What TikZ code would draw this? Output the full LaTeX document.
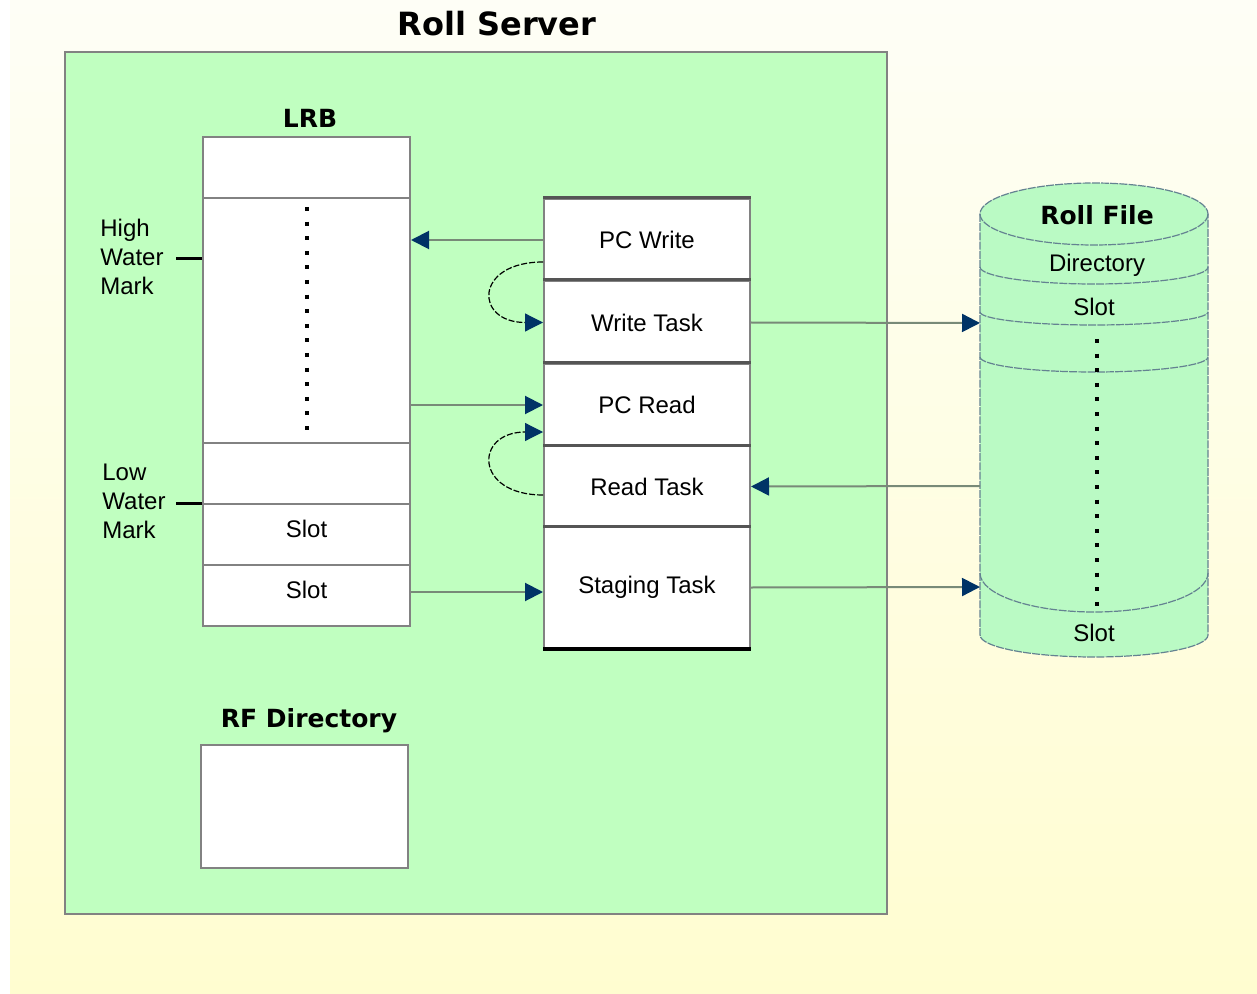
\documentclass[tikz,border=0pt]{standalone}
\usepackage{fontspec}
\setmainfont{Liberation Sans}
\newfontfamily\headfont{DejaVu Sans}
\usetikzlibrary{positioning,arrows.meta}
\definecolor{serverbg}{RGB}{192,255,192}
\definecolor{filebg}{RGB}{186,250,196}
\definecolor{boxline}{RGB}{130,130,130}
\definecolor{darkline}{RGB}{85,85,85}
\definecolor{wireline}{RGB}{120,138,120}
\definecolor{fileline}{RGB}{100,130,145}
\definecolor{tipblue}{RGB}{0,51,102}
\definecolor{pagetop}{RGB}{254,254,246}
\definecolor{pagebot}{RGB}{255,253,208}

\begin{document}
\begin{tikzpicture}[x=0.5pt, y=-0.5pt, font=\fontsize{12}{14.5}\selectfont,
		head/.style={font=\headfont\bfseries\fontsize{12.5}{15}\selectfont},
		wire/.style={wireline, line width=1pt, -{Triangle[length=9pt,width=9pt,color=tipblue]}},
		loopback/.style={black, line width=0.6pt, dash pattern=on 3pt off 1pt, -{Triangle[length=9pt,width=9pt,color=tipblue]}},
		dots/.style={line width=2pt, dash pattern=on 2pt off 5.3pt}]
	\useasboundingbox (0,0) rectangle (1257,994);
	\fill[white] (0,0) rectangle (1257,994);
	\shade[top color=pagetop, bottom color=pagebot] (10,0) rectangle (1257,994);

	% server frame
	\draw[boxline, fill=serverbg, line width=1pt] (65,52) rectangle (887,914);
	\node[font=\headfont\bfseries\fontsize{16}{19}\selectfont] (title) at (497,24) {Roll Server};

	% local roll buffer
	\node[head] (lrblabel) at (310,118) {LRB};
	\begin{scope}[every node/.style={draw=boxline, fill=white, line width=1pt, minimum width=103.5pt, inner sep=0pt}]
		\node[minimum height=30.5pt] (lrb0) at (306.5,167.5) {};
		\node[minimum height=122.5pt] (lrb1) at (306.5,320.5) {};
		\node[minimum height=30.5pt] (lrb2) at (306.5,473.5) {};
		\node[minimum height=30.5pt, text depth=6pt] (lrb3) at (306.5,534.5) {Slot};
		\node[minimum height=30.5pt, text depth=6pt] (lrb4) at (306.5,595.5) {Slot};
	\end{scope}
	\draw[dots] ([yshift=-5pt]lrb1.north) -- ([yshift=3pt]lrb1.south);

	\node[align=left, anchor=west, inner sep=0pt] (high) at (100,257) {High\\Water\\Mark};
	\node[align=left, anchor=west, inner sep=0pt] (low) at (102,501) {Low\\Water\\Mark};
	\draw[line width=1.5pt] ([yshift=-1pt]lrb1.west |- high.east) -- ++(-26,0);
	\draw[line width=1.5pt] (lrb3.north west) -- ++(-26,0);

	% tasks
	\begin{scope}[every node/.style={draw=boxline, fill=white, line width=1pt, minimum width=103pt, inner sep=0pt}]
		\node[minimum height=41pt] (pcw) at (647,240) {PC Write};
		\node[minimum height=41.5pt] (wtask) at (647,322.5) {Write Task};
		\node[minimum height=41pt] (pcr) at (647,405) {PC Read};
		\node[minimum height=40.5pt] (rtask) at (647,486.5) {Read Task};
		\node[minimum height=60.5pt] (stask) at (647,587.5) {Staging Task};
	\end{scope}
	\begin{scope}[every path/.style={darkline, line width=1.5pt}]
		\draw (pcw.north west) -- (pcw.north east);
		\draw (wtask.north west) -- (wtask.north east);
		\draw (pcr.north west) -- (pcr.north east);
		\draw (rtask.north west) -- (rtask.north east);
		\draw (stask.north west) -- (stask.north east);
	\end{scope}
	\draw[black, line width=2pt] (stask.south west) -- (stask.south east);

	% roll file
	\fill[filebg] (980,214) -- (980,635) arc[start angle=180, end angle=0, x radius=114, y radius=22] -- (1208,214) -- cycle;
	\begin{scope}[fileline, line width=0.6pt, dash pattern=on 4pt off 0.6pt]
		\draw[fill=filebg] (1094,214) ellipse[x radius=114, y radius=31];
		\draw (980,214) -- (980,635) arc[start angle=180, end angle=0, x radius=114, y radius=22] -- (1208,214);
		\draw (980,267) arc[start angle=180, end angle=0, x radius=114, y radius=17];
		\draw (980,312) arc[start angle=180, end angle=0, x radius=114, y radius=13];
		\draw (980,357) arc[start angle=180, end angle=0, x radius=114, y radius=15];
		\draw (980,573) arc[start angle=180, end angle=0, x radius=114, y radius=39];
	\end{scope}
	\node[head] (rflabel) at (1097,215) {Roll File};
	\node (rfdir) at (1097,265) {Directory};
	\node (rfslot1) at (1094,307) {Slot};
	\node (rfslot2) at (1094,633) {Slot};
	\draw[dots] (1097,339) -- (1097,606);
	\coordinate (rfin1) at (980,323);
	\coordinate (rfout) at (980,486);
	\coordinate (rfin2) at (980,587);

	% RF directory
	\node[head] (dirlabel) at (309,721) {RF Directory};
	\node[draw=boxline, fill=white, line width=1pt, minimum width=103.5pt, minimum height=61.5pt] (dirbox) at (304.5,806.5) {};

	% connectors
	\draw[wire] (pcw.west) -- (pcw.west -| lrb1.east);
	\draw[wire] (lrb1.east |- pcr.west) -- (pcr.west);
	\draw[wire] ([yshift=1.75pt]lrb4.east) -- ([yshift=1.75pt]lrb4.east -| stask.west);
	\draw[wire] (wtask.east) -- (rfin1);
	\draw[wire] (rfout) -- (rtask.east);
	\draw[wire] (stask.east) -- (rfin2);
	\draw[loopback] ([yshift=-11pt]pcw.west) .. controls ++(-69,0) and ([xshift=-34.5pt]wtask.west) .. (wtask.west);
	\draw[loopback] ([yshift=-4.25pt]rtask.west) .. controls ++(-69,0) and ([xshift=-34.5pt,yshift=-13.5pt]pcr.west) .. ([yshift=-13.5pt]pcr.west);
\end{tikzpicture}
\end{document}
